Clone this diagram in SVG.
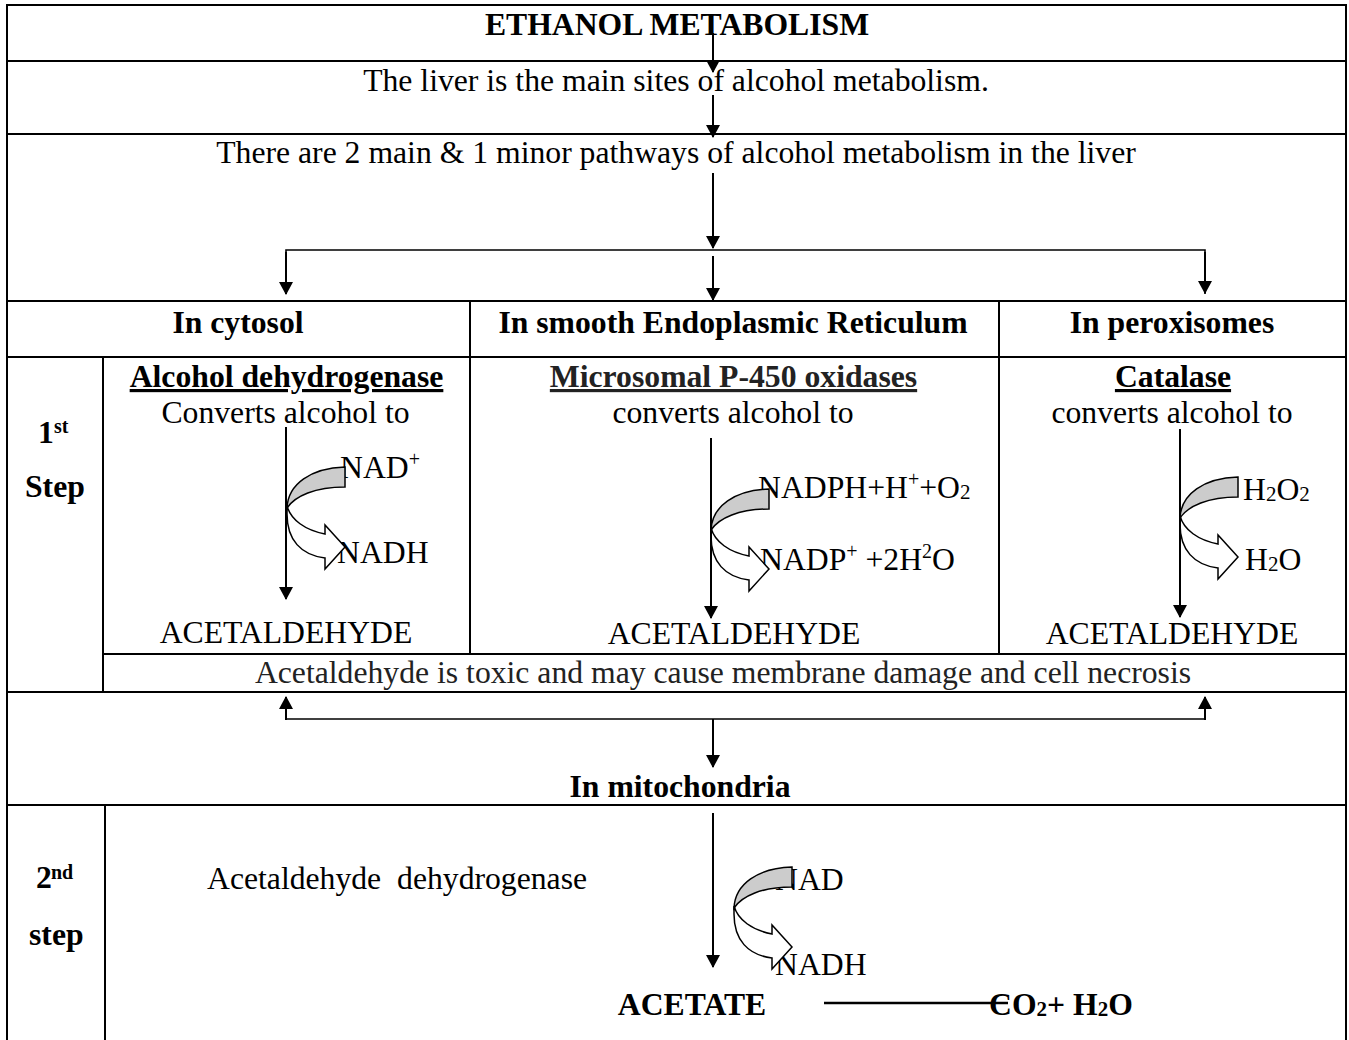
<svg xmlns="http://www.w3.org/2000/svg" xmlns:xlink="http://www.w3.org/1999/xlink" width="1349" height="1040" viewBox="0 0 1349 1040">
<style>
text{font-family:"Liberation Serif","Times New Roman",serif;font-size:31.7px;fill:#000}
.b{font-weight:bold}
.c{text-anchor:middle}
.sup{font-size:20px}
.sub{font-size:21px}
.grid line{stroke:#000;stroke-width:2}
.con line,.con path.ln{stroke:#000;stroke-width:2;fill:none}
.thin{stroke-width:1.6 !important}
</style>
<defs>
<marker id="ah" markerUnits="userSpaceOnUse" markerWidth="14" markerHeight="14" refX="12" refY="7" orient="auto">
<path d="M0,0 L13,7 L0,14 Z" fill="#000"/>
</marker>
<g id="carrow">
<path d="M0,-2 C4,12 18,22 38,26 L38,17 L58,39 L38,61 L38,50 C14,47 0,32 0,6 Z" fill="#fff" stroke="#000" stroke-width="1.5"/>
<path d="M58,-41 C24,-40 1,-24 0,0 C8,-12 28,-21 58,-21 Z" fill="#ccc" stroke="#000" stroke-width="1.5"/>
</g>
</defs>
<rect width="1349" height="1040" fill="#fff"/>

<g id="table" class="grid">
<line x1="7" y1="5" x2="1346" y2="5"/>
<line x1="7" y1="4" x2="7" y2="1040"/>
<line x1="1346" y1="4" x2="1346" y2="1040"/>
<line x1="7" y1="61" x2="1346" y2="61"/>
<line x1="7" y1="134" x2="1346" y2="134"/>
<line x1="7" y1="301" x2="1346" y2="301"/>
<line x1="7" y1="357" x2="1346" y2="357"/>
<line x1="103" y1="654" x2="1346" y2="654"/>
<line x1="7" y1="692" x2="1346" y2="692"/>
<line x1="7" y1="805" x2="1346" y2="805"/>
<line x1="470" y1="301" x2="470" y2="654"/>
<line x1="999" y1="301" x2="999" y2="654"/>
<line x1="103" y1="357" x2="103" y2="692"/>
<line x1="105" y1="805" x2="105" y2="1040"/>
</g>

<g id="title"><text class="b c" x="677" y="35">ETHANOL METABOLISM</text></g>
<g id="liver"><text class="c" x="676" y="91">The liver is the main sites of alcohol metabolism.</text></g>
<g id="pathways"><text class="c" x="676" y="163">There are 2 main &amp; 1 minor pathways of alcohol metabolism in the liver</text></g>

<g id="cytosol"><text class="b c" x="238" y="333">In cytosol</text></g>
<g id="ser"><text class="b c" x="733" y="333">In smooth Endoplasmic Reticulum</text></g>
<g id="peroxisomes"><text class="b c" x="1172" y="333">In peroxisomes</text></g>

<g id="step1"><text class="b" x="38" y="443">1</text><text class="b sup" x="54" y="433">st</text><text class="b" x="25" y="497">Step</text></g>

<g id="adh">
<text class="b c" x="286.5" y="387" text-decoration="underline">Alcohol dehydrogenase</text>
<text class="c" x="285.5" y="423">Converts alcohol to</text>
<text x="340" y="478">NAD<tspan class="sup" dy="-12">+</tspan></text>
<text x="337" y="563">NADH</text>
<text class="c" x="286" y="643">ACETALDEHYDE</text>
</g>

<g id="p450">
<text class="b c" x="733.5" y="387" style="fill:#222" text-decoration="underline">Microsomal P-450 oxidases</text>
<text class="c" x="733" y="423">converts alcohol to</text>
<text x="758" y="498">NADPH+H<tspan class="sup" dy="-12">+</tspan><tspan dy="12">+O</tspan><tspan class="sub" dy="1">2</tspan></text>
<text x="760" y="570">NADP<tspan class="sup" dy="-12">+</tspan><tspan dy="12"> +2H</tspan><tspan class="sup" dy="-12">2</tspan><tspan dy="12">O</tspan></text>
<text class="c" x="734" y="644">ACETALDEHYDE</text>
</g>

<g id="catalase">
<text class="b c" x="1173" y="387" text-decoration="underline">Catalase</text>
<text class="c" x="1172" y="423">converts alcohol to</text>
<text x="1243" y="500">H<tspan class="sub" dy="1">2</tspan><tspan dy="-1">O</tspan><tspan class="sub" dy="1">2</tspan></text>
<text x="1245" y="570">H<tspan class="sub" dy="1">2</tspan><tspan dy="-1">O</tspan></text>
<text class="c" x="1172" y="644">ACETALDEHYDE</text>
</g>

<g id="toxic"><text class="c" x="723" y="683" style="fill:#222">Acetaldehyde is toxic and may cause membrane damage and cell necrosis</text></g>

<g id="mitochondria"><text class="b c" x="680" y="797">In mitochondria</text></g>
<g id="step2"><text class="b" x="36" y="888">2</text><text class="b sup" x="51" y="879">nd</text><text class="b" x="29" y="945">step</text></g>
<g id="aldh">
<text x="207" y="889" xml:space="preserve">Acetaldehyde  dehydrogenase</text>
<text x="775" y="890">NAD</text>
<text x="775" y="975">NADH</text>
</g>
<g id="acetate"><text class="b c" x="692" y="1015">ACETATE</text></g>
<g id="co2"><text class="b" x="989" y="1015">CO<tspan class="sub" dy="1">2</tspan><tspan dy="-1">+ H</tspan><tspan class="sub" dy="1">2</tspan><tspan dy="-1">O</tspan></text></g>

<g id="connectors" class="con">
<use xlink:href="#carrow" x="287" y="508"/>
<use xlink:href="#carrow" x="711" y="530"/>
<use xlink:href="#carrow" x="1180" y="518"/>
<use xlink:href="#carrow" x="734" y="908"/>

<line x1="713" y1="33" x2="713" y2="72" marker-end="url(#ah)"/>
<line x1="713" y1="95" x2="713" y2="137" marker-end="url(#ah)"/>
<line x1="713" y1="173" x2="713" y2="248" marker-end="url(#ah)"/>
<path class="ln thin" d="M286,294 L286,250 L1205,250 L1205,294"/>
<line x1="286" y1="252" x2="286" y2="294" marker-end="url(#ah)"/>
<line x1="1205" y1="252" x2="1205" y2="293" marker-end="url(#ah)"/>
<line x1="713" y1="256" x2="713" y2="300" marker-end="url(#ah)"/>

<line x1="286" y1="427" x2="286" y2="599" marker-end="url(#ah)"/>
<line x1="711" y1="438" x2="711" y2="618" marker-end="url(#ah)"/>
<line x1="1180" y1="429" x2="1180" y2="617" marker-end="url(#ah)"/>

<path class="ln thin" d="M286,719 L1205,719"/>
<line x1="286" y1="720" x2="286" y2="697" marker-end="url(#ah)"/>
<line x1="1205" y1="720" x2="1205" y2="697" marker-end="url(#ah)"/>
<line x1="713" y1="719" x2="713" y2="767" marker-end="url(#ah)"/>

<line x1="713" y1="813" x2="713" y2="967" marker-end="url(#ah)"/>
<line x1="824" y1="1003" x2="1008" y2="1003" style="stroke-width:2.6"/>
</g>
</svg>
